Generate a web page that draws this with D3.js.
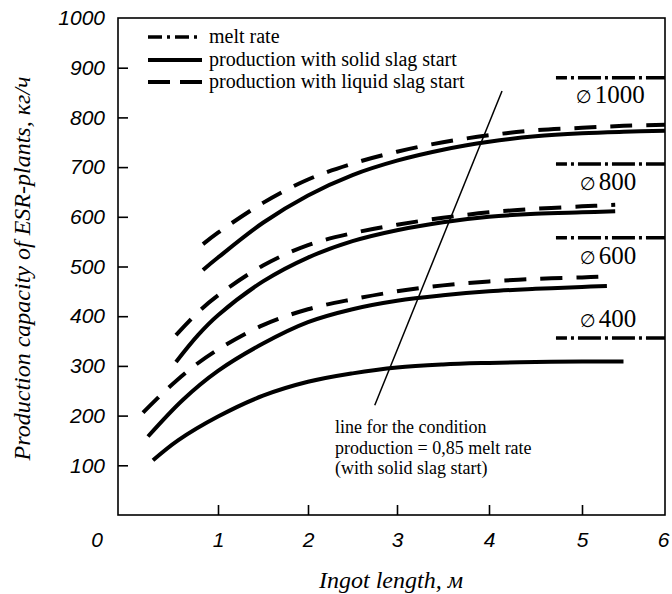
<!DOCTYPE html>
<html><head><meta charset="utf-8">
<script src="https://cdn.jsdelivr.net/npm/d3@7"></script>
<style>
body{margin:0;background:#fff;}
svg{display:block;}
</style></head>
<body>
<svg id="chart" width="672" height="594"></svg>
<script>
// ---------- data ----------
const xTicks = [1, 2, 3, 4, 5, 6];
const yTicks = [100, 200, 300, 400, 500, 600, 700, 800, 900, 1000];
const diameterLabels = ["\u2205 400", "\u2205 600", "\u2205 800", "\u2205 1000"];
const meltRate = [356, 558, 706, 880];
const meltFrom = 4.72;
const meltTo = 6;
const labelValue = [379, 506, 653, 828];

const solid400 = [[0.35,110],[0.6,150],[1.0,198],[1.5,240],[2.0,268],[2.5,285],[3.0,297],[3.5,303],[4.0,306],[4.5,308],[5.0,309],[5.5,309]];
const solid600 = [[0.3,158],[0.65,232],[1.0,290],[1.5,345],[2.0,388],[2.5,414],[3.0,431],[3.5,442],[4.0,450],[4.5,455],[5.0,459],[5.3,461]];
const dashed600 = [[0.25,206],[0.5,255],[0.75,298],[1.0,333],[1.5,382],[2.0,414],[2.5,434],[3.0,450],[3.5,462],[4.0,470],[4.5,475],[5.0,478],[5.3,480]];
const solid800 = [[0.58,308],[0.8,362],[1.0,402],[1.5,470],[2.0,518],[2.5,551],[3.0,573],[3.5,589],[4.0,600],[4.5,606],[5.0,609],[5.4,611]];
const dashed800 = [[0.58,362],[0.8,408],[1.0,442],[1.5,502],[2.0,543],[2.5,567],[3.0,584],[3.5,598],[4.0,609],[4.5,616],[5.0,621],[5.4,624]];
const solid1000 = [[0.85,493],[1.0,518],[1.5,588],[2.0,643],[2.5,684],[3.0,713],[3.5,735],[4.0,751],[4.5,762],[5.0,768],[5.5,771],[6.0,773]];
const dashed1000 = [[0.85,545],[1.0,568],[1.5,628],[2.0,675],[2.5,707],[3.0,731],[3.5,750],[4.0,764],[4.5,774],[5.0,779],[5.5,783],[6.0,785]];
const conditionLine = [[4.14,853],[2.75,221]];

const legendItems = ["melt rate", "production with solid slag start", "production with liquid slag start"];
const noteLines = ["line for the condition", "production = 0,85 melt rate", "(with solid slag start)"];

// ---------- chart ----------
const svg = d3.select("#chart");
const x = d3.scaleLinear().domain([0,1,2,3,4,5,6]).range([118,218,308,397,489,582,665]);
const y = d3.scaleLinear().domain([0,1000]).range([515,18]);

const serif = "'Liberation Serif','Times New Roman',serif";
const sans = "'Liberation Sans',Arial,sans-serif";

// frame
svg.append("rect")
  .attr("x", x(0)).attr("y", y(1000))
  .attr("width", x(6) - x(0)).attr("height", y(0) - y(1000))
  .attr("fill", "none").attr("stroke", "#000").attr("stroke-width", 1.6);

// axes
const fmt = d3.format("d");
const yAxis = svg.append("g").attr("transform", `translate(${x(0)},0)`)
  .call(d3.axisLeft(y).tickValues(yTicks).tickFormat(fmt).tickSizeInner(-10).tickSizeOuter(0).tickPadding(13));
const xAxis = svg.append("g").attr("transform", `translate(0,${y(0)})`)
  .call(d3.axisBottom(x).tickValues(xTicks).tickFormat(fmt).tickSizeInner(-10).tickSizeOuter(0).tickPadding(17));
[yAxis, xAxis].forEach(g => {
  g.select(".domain").remove();
  g.selectAll(".tick line").attr("stroke", "#000").attr("stroke-width", 1.6);
  g.selectAll(".tick text").attr("font-family", sans).attr("font-style", "italic")
    .attr("font-size", 21).attr("fill", "#000");
});
yAxis.selectAll(".tick").filter(d => d === 1000).select("line").remove();
xAxis.selectAll(".tick").filter(d => d === 6).select("line").remove();
xAxis.selectAll(".tick").filter(d => d === 6).select("text").attr("text-anchor", "end").attr("dx", 4);

// origin label
svg.append("text").attr("x", 97).attr("y", y(0) + 17).attr("dy", "0.71em")
  .attr("text-anchor", "middle").attr("font-family", sans).attr("font-style", "italic")
  .attr("font-size", 21).text("0");

// axis titles
svg.append("text")
  .attr("transform", `translate(30,${(y(0)+y(1000))/2 + 2}) rotate(-90)`)
  .attr("text-anchor", "middle").attr("font-family", serif).attr("font-style", "italic")
  .attr("font-size", 24).text("Production capacity of ESR-plants, \u043a\u0433/\u0447");
svg.append("text")
  .attr("x", 391).attr("y", 588)
  .attr("text-anchor", "middle").attr("font-family", serif).attr("font-style", "italic")
  .attr("font-size", 24).text("Ingot length, \u043c");

const line = d3.line().x(d => x(d[0])).y(d => y(d[1])).curve(d3.curveCatmullRom.alpha(0.5));
const dashPattern = "22,14";
const meltPattern = "23,4,3,4";

// production curves
[solid400, solid600, solid800, solid1000].forEach(s => {
  svg.append("path").datum(s).attr("d", line)
    .attr("fill", "none").attr("stroke", "#000").attr("stroke-width", 4);
});
[dashed600, dashed800, dashed1000].forEach(s => {
  svg.append("path").datum(s).attr("d", line)
    .attr("fill", "none").attr("stroke", "#000").attr("stroke-width", 4)
    .attr("stroke-dasharray", dashPattern);
});

// melt rate lines and diameter labels
meltRate.forEach((v, i) => {
  svg.append("line")
    .attr("x1", x(meltFrom)).attr("x2", x(meltTo)).attr("y1", y(v)).attr("y2", y(v))
    .attr("stroke", "#000").attr("stroke-width", 3.5)
    .attr("stroke-dasharray", meltPattern).attr("stroke-dashoffset", 12);
  const t = svg.append("text").attr("x", i === 3 ? 576 : 580).attr("y", y(labelValue[i]))
    .attr("font-family", serif).attr("font-size", 25).attr("fill", "#000");
  const parts = diameterLabels[i].split(" ");
  t.append("tspan").attr("font-family", "'DejaVu Sans',sans-serif").attr("font-size", 18).text(parts[0]);
  t.append("tspan").attr("dx", 3).text(parts[1]);
});

// condition line
svg.append("path").datum(conditionLine).attr("d", d3.line().x(d => x(d[0])).y(d => y(d[1])))
  .attr("fill", "none").attr("stroke", "#000").attr("stroke-width", 1.5);

// annotation
noteLines.forEach((t, i) => {
  svg.append("text").attr("x", 335).attr("y", 433 + i * 20.5)
    .attr("font-family", serif).attr("font-size", 18).text(t);
});

// legend
const legendY = [37, 60, 82];
const legendStyles = [
  {dash: "14,5,3,5", w: 3.5},
  {dash: null, w: 4},
  {dash: "22,10", w: 4}
];
legendItems.forEach((t, i) => {
  const ln = svg.append("line").attr("x1", 148).attr("x2", 202)
    .attr("y1", legendY[i]).attr("y2", legendY[i])
    .attr("stroke", "#000").attr("stroke-width", legendStyles[i].w);
  if (legendStyles[i].dash) ln.attr("stroke-dasharray", legendStyles[i].dash);
  svg.append("text").attr("x", 209).attr("y", legendY[i] + 6)
    .attr("font-family", serif).attr("font-size", 20).text(t);
});
</script>
</body></html>
